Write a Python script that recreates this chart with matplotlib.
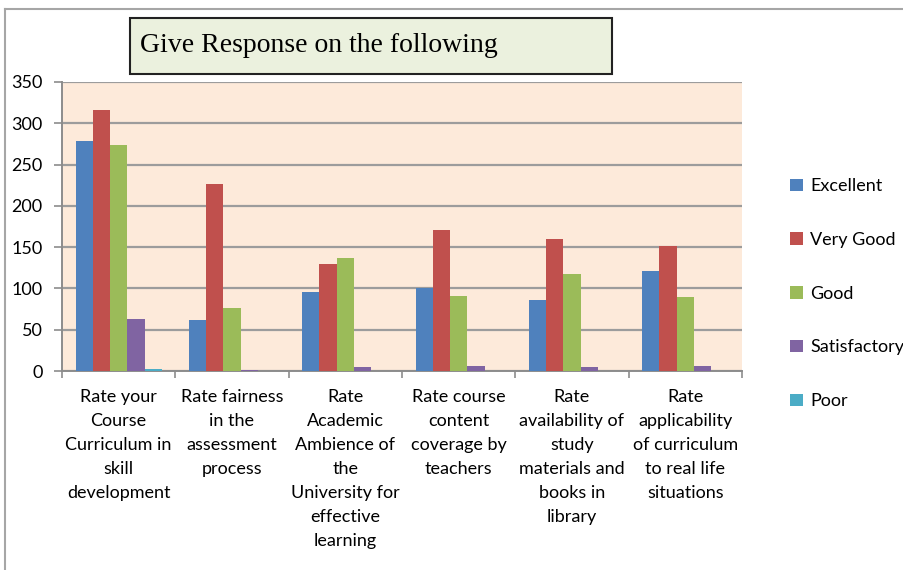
import numpy as np
import matplotlib.pyplot as plt
from matplotlib.patches import Rectangle
from matplotlib.lines import Line2D

categories = [
    "Rate your\nCourse\nCurriculum in\nskill\ndevelopment",
    "Rate fairness\nin the\nassessment\nprocess",
    "Rate\nAcademic\nAmbience of\nthe\nUniversity for\neffective\nlearning",
    "Rate course\ncontent\ncoverage by\nteachers",
    "Rate\navailability of\nstudy\nmaterials and\nbooks in\nlibrary",
    "Rate\napplicability\nof curriculum\nto real life\nsituations",
]
series = ["Excellent", "Very Good", "Good", "Satisfactory", "Poor"]
excellent = [279, 62, 96, 100, 86, 121]
very_good = [316, 226, 130, 171, 160, 151]
good = [274, 76, 137, 91, 117, 90]
satisfactory = [63, 1, 5, 6, 5, 6]
poor = [2, 0, 0, 0, 0, 0]
values = [excellent, very_good, good, satisfactory, poor]
colors = ["#4F81BD", "#C0504D", "#9BBB59", "#8064A2", "#4BACC6"]

plt.rcParams['font.family'] = ['Lato', 'DejaVu Sans']

fig = plt.figure(figsize=(9.04, 5.70), dpi=100)
ax = fig.add_axes([62/904, 1 - 371/570, 680/904, 289/570])
ax.set_facecolor("#FDEADA")

x = np.arange(len(categories))
w = 0.152
for i, (name, vals) in enumerate(zip(series, values)):
    ax.bar(x + (i - 2) * w, vals, w, color=colors[i], label=name, zorder=3)

ax.set_xlim(-0.5, len(categories) - 0.5)
ax.set_ylim(0, 350)
ax.set_yticks(range(0, 351, 50))
ax.yaxis.grid(True, color="#9C9C9C", linewidth=1.6, zorder=0)
ax.set_xticks(x)
ax.set_xticklabels(categories, fontsize=13, linespacing=1.62)
ax.tick_params(axis='x', length=0, pad=13)
ax.set_xticks(np.arange(-0.5, len(categories), 1), minor=True)
ax.tick_params(axis='x', which='minor', length=5, color="#8C8C8C", width=1.2)
ax.tick_params(axis='y', labelsize=13, length=6, color="#8C8C8C", width=1.2, pad=8)
for s in ["top", "right"]:
    ax.spines[s].set_visible(False)
for s in ["left", "bottom"]:
    ax.spines[s].set_color("#8C8C8C")
    ax.spines[s].set_linewidth(1.4)

leg = fig.legend(loc="upper left", bbox_to_anchor=(774/904, 1 - 162/570),
                 frameon=False, fontsize=13, handlelength=0.7, handleheight=0.7,
                 handletextpad=0.4, labelspacing=2.09)

# title box
fig.patches.append(Rectangle((130/904, 1 - 74/570), 482/904, 56/570,
                             transform=fig.transFigure, facecolor="#EBF1DE",
                             edgecolor="#222222", linewidth=1.5))
fig.text(140/904, 1 - 46/570, "Give Response on the following",
         family="Liberation Serif", fontsize=20, va="center", ha="left")

# outer chart frame
fig.lines.append(Line2D([5/904, 1], [1 - 9/570, 1 - 9/570],
                        transform=fig.transFigure, color="#A6A6A6", linewidth=1.5))
fig.lines.append(Line2D([5/904, 5/904], [0, 1 - 9/570],
                        transform=fig.transFigure, color="#A6A6A6", linewidth=1.5))

fig.savefig("out.png", dpi=100)
